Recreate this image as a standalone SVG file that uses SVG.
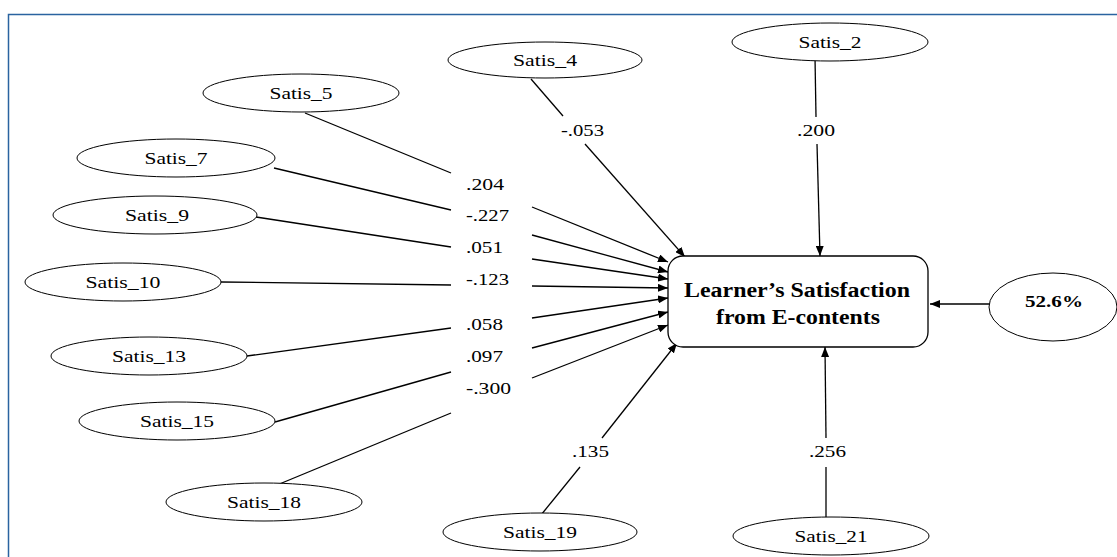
<svg xmlns="http://www.w3.org/2000/svg" width="1117" height="557" viewBox="0 0 1117 557">
<style>
.frame{fill:#fff;stroke:#2a63a0;stroke-width:1.5}
.el{fill:#fff;stroke:#000;stroke-width:1}
.box{fill:#fff;stroke:#000;stroke-width:1.3}
.t{font-family:"Liberation Serif","Times New Roman",serif;font-size:17px;fill:#000;text-anchor:middle}
.lb{font-family:"Liberation Serif","Times New Roman",serif;font-size:16px;fill:#000}
.bt{font-family:"Liberation Serif","Times New Roman",serif;font-weight:bold;fill:#000;text-anchor:middle}
.ln{stroke:#000;stroke-width:1.3;fill:none}
.ar{stroke:#000;stroke-width:1.3;fill:none;marker-end:url(#ah)}
</style>
<defs>
<marker id="ah" markerWidth="10" markerHeight="8" refX="10" refY="4" orient="auto" markerUnits="userSpaceOnUse">
<path d="M0,0 L10,4 L0,8 Z" fill="#000"/>
</marker>
</defs>
<rect class="frame" x="8.5" y="14.5" width="1130" height="560"/>

<g id="connectors">
<line class="ln" x1="305" y1="113" x2="451" y2="173"/>
<line class="ar" x1="532" y1="207" x2="668" y2="262"/>
<line class="ln" x1="274" y1="168" x2="451" y2="210"/>
<line class="ar" x1="532" y1="235" x2="668" y2="272"/>
<line class="ln" x1="256" y1="217" x2="451" y2="247"/>
<line class="ar" x1="532" y1="259" x2="668" y2="279"/>
<line class="ln" x1="221" y1="282" x2="451" y2="285"/>
<line class="ar" x1="532" y1="286" x2="668" y2="288"/>
<line class="ln" x1="247" y1="356" x2="451" y2="328"/>
<line class="ar" x1="532" y1="318" x2="668" y2="298"/>
<line class="ln" x1="275" y1="422" x2="451" y2="372"/>
<line class="ar" x1="532" y1="348" x2="668" y2="312"/>
<line class="ln" x1="277" y1="485" x2="451" y2="413"/>
<line class="ar" x1="532" y1="378" x2="668" y2="325"/>
<line class="ln" x1="531" y1="79" x2="563" y2="116"/>
<line class="ar" x1="585" y1="144" x2="685" y2="257"/>
<line class="ln" x1="815" y1="57" x2="816" y2="117"/>
<line class="ar" x1="817" y1="144" x2="820" y2="256"/>
<line class="ln" x1="826" y1="518" x2="826" y2="467"/>
<line class="ar" x1="826" y1="438" x2="825" y2="347"/>
<line class="ln" x1="541" y1="515" x2="580" y2="467"/>
<line class="ar" x1="602" y1="438" x2="677" y2="343"/>
<line class="ar" x1="990" y1="304" x2="930" y2="304"/>
<text class="lb" x="466" y="190" textLength="38" lengthAdjust="spacingAndGlyphs">.204</text>
<text class="lb" x="466" y="221" textLength="43" lengthAdjust="spacingAndGlyphs">-.227</text>
<text class="lb" x="466" y="253" textLength="37" lengthAdjust="spacingAndGlyphs">.051</text>
<text class="lb" x="466" y="285" textLength="43" lengthAdjust="spacingAndGlyphs">-.123</text>
<text class="lb" x="466" y="330" textLength="37" lengthAdjust="spacingAndGlyphs">.058</text>
<text class="lb" x="466" y="362" textLength="37" lengthAdjust="spacingAndGlyphs">.097</text>
<text class="lb" x="466" y="394" textLength="45" lengthAdjust="spacingAndGlyphs">-.300</text>
<text class="lb" x="561" y="136" textLength="43" lengthAdjust="spacingAndGlyphs">-.053</text>
<text class="lb" x="797" y="136" textLength="38" lengthAdjust="spacingAndGlyphs">.200</text>
<text class="lb" x="572" y="457" textLength="37" lengthAdjust="spacingAndGlyphs">.135</text>
<text class="lb" x="809" y="457" textLength="37" lengthAdjust="spacingAndGlyphs">.256</text>
</g>

<g id="n_satis4"><ellipse class="el" cx="545" cy="60" rx="97" ry="18"/><text class="t" x="545" y="66" textLength="64" lengthAdjust="spacingAndGlyphs">Satis_4</text></g>
<g id="n_satis2"><ellipse class="el" cx="830" cy="42" rx="98" ry="19"/><text class="t" x="830" y="48" textLength="63" lengthAdjust="spacingAndGlyphs">Satis_2</text></g>
<g id="n_satis5"><ellipse class="el" cx="301" cy="93" rx="98" ry="19"/><text class="t" x="301" y="99" textLength="63" lengthAdjust="spacingAndGlyphs">Satis_5</text></g>
<g id="n_satis7"><ellipse class="el" cx="176" cy="158" rx="99" ry="19"/><text class="t" x="176" y="164" textLength="63" lengthAdjust="spacingAndGlyphs">Satis_7</text></g>
<g id="n_satis9"><ellipse class="el" cx="155" cy="215" rx="102" ry="19"/><text class="t" x="157" y="221" textLength="64" lengthAdjust="spacingAndGlyphs">Satis_9</text></g>
<g id="n_satis10"><ellipse class="el" cx="123" cy="282" rx="98" ry="19"/><text class="t" x="123" y="288" textLength="75" lengthAdjust="spacingAndGlyphs">Satis_10</text></g>
<g id="n_satis13"><ellipse class="el" cx="149" cy="356" rx="98" ry="19"/><text class="t" x="149" y="362" textLength="74" lengthAdjust="spacingAndGlyphs">Satis_13</text></g>
<g id="n_satis15"><ellipse class="el" cx="177" cy="421" rx="98" ry="19"/><text class="t" x="177" y="427" textLength="74" lengthAdjust="spacingAndGlyphs">Satis_15</text></g>
<g id="n_satis18"><ellipse class="el" cx="264" cy="502" rx="98" ry="19"/><text class="t" x="264" y="508" textLength="74" lengthAdjust="spacingAndGlyphs">Satis_18</text></g>
<g id="n_satis19"><ellipse class="el" cx="540" cy="532" rx="97" ry="19"/><text class="t" x="540" y="538" textLength="74" lengthAdjust="spacingAndGlyphs">Satis_19</text></g>
<g id="n_satis21"><ellipse class="el" cx="831" cy="536" rx="98" ry="19"/><text class="t" x="831" y="542" textLength="73" lengthAdjust="spacingAndGlyphs">Satis_21</text></g>
<g id="n_r2"><ellipse class="el" cx="1053" cy="307" rx="64" ry="34"/><text class="bt" x="1054" y="307" font-size="16" textLength="58" lengthAdjust="spacingAndGlyphs">52.6%</text></g>
<g id="n_target"><rect class="box" x="668" y="256" width="260" height="91" rx="15" ry="15"/>
<text class="bt" x="797" y="297" font-size="20" textLength="226" lengthAdjust="spacingAndGlyphs">Learner’s Satisfaction</text>
<text class="bt" x="798" y="324" font-size="20" textLength="164" lengthAdjust="spacingAndGlyphs">from E-contents</text></g>
</svg>
